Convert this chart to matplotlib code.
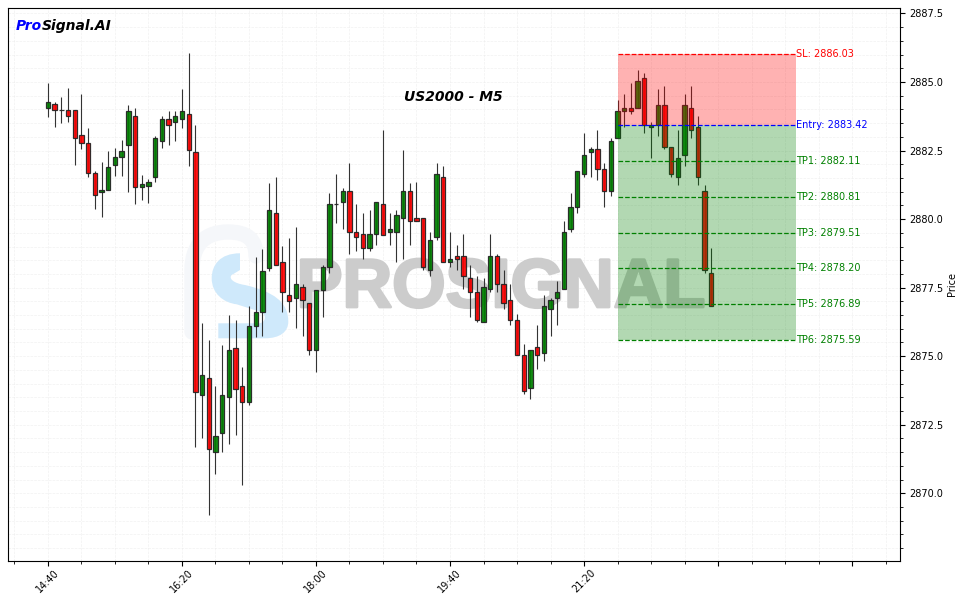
import matplotlib
matplotlib.use("Agg")
import numpy as np

from matplotlib import pyplot as plt
from matplotlib.path import Path
from matplotlib.patches import PathPatch
from matplotlib.patheffects import withStroke
from matplotlib.ticker import MultipleLocator

opens = [2884.04, 2884.18, 2883.97, 2883.97, 2883.97, 2883.05, 2882.76, 2881.67, 2880.97, 2881.05,
         2881.99, 2882.25, 2882.69, 2883.75, 2881.16, 2881.19, 2881.52, 2882.83, 2883.64, 2883.53,
         2883.64, 2883.82, 2882.43, 2873.57, 2874.19, 2871.49, 2872.19, 2873.50, 2875.29, 2873.90,
         2873.32, 2876.09, 2876.60, 2878.20, 2880.21, 2878.42, 2877.22, 2877.11, 2877.51, 2876.93,
         2875.21, 2877.40, 2878.24, 2880.54, 2880.61, 2881.01, 2879.52, 2879.44, 2878.93, 2879.44,
         2880.54, 2879.52, 2879.52, 2880.03, 2881.01, 2880.03, 2880.03, 2878.13, 2879.34, 2881.52,
         2878.42, 2878.64, 2878.64, 2877.84, 2877.33, 2876.24, 2877.44, 2878.64, 2877.62, 2877.04,
         2876.31, 2875.03, 2873.83, 2875.32, 2875.10, 2876.71, 2877.11, 2877.44, 2879.63, 2880.43,
         2881.63, 2882.43, 2882.54, 2881.82, 2881.01, 2882.95, 2883.93, 2884.04, 2884.04, 2885.13,
         2883.35, 2883.42, 2884.15, 2882.62, 2881.52, 2882.33, 2884.04, 2883.35, 2881.01, 2878.02]
closes = [2884.26, 2883.97, 2883.97, 2883.77, 2882.94, 2882.76, 2881.67, 2880.87, 2881.05, 2881.89,
          2882.25, 2882.47, 2883.93, 2881.16, 2881.27, 2881.37, 2882.94, 2883.64, 2883.42, 2883.75,
          2883.93, 2882.51, 2873.68, 2874.30, 2871.60, 2872.08, 2873.57, 2875.21, 2873.79, 2873.32,
          2876.09, 2876.60, 2878.09, 2880.32, 2878.31, 2877.33, 2877.00, 2877.62, 2877.04, 2875.21,
          2877.40, 2878.24, 2880.54, 2880.54, 2881.01, 2879.52, 2879.34, 2878.93, 2879.44, 2880.61,
          2879.41, 2879.63, 2880.14, 2881.01, 2879.92, 2879.92, 2878.24, 2879.22, 2881.63, 2878.42,
          2878.53, 2878.53, 2877.91, 2877.33, 2876.31, 2877.51, 2878.64, 2877.62, 2876.93, 2876.31,
          2875.03, 2873.72, 2875.21, 2875.03, 2876.82, 2877.04, 2877.33, 2879.52, 2880.43, 2881.74,
          2882.33, 2882.54, 2881.82, 2881.01, 2882.83, 2883.93, 2884.04, 2883.93, 2885.02, 2883.42,
          2883.42, 2884.15, 2882.62, 2881.63, 2882.22, 2884.15, 2883.24, 2881.52, 2878.13, 2876.82]
highs = [2884.95, 2884.26, 2884.46, 2884.77, 2883.97, 2884.55, 2883.34, 2881.76, 2882.07, 2882.47,
         2882.58, 2882.87, 2884.15, 2884.04, 2881.59, 2881.48, 2883.02, 2883.75, 2883.93, 2883.93,
         2884.73, 2886.04, 2883.42, 2876.20, 2875.58, 2873.90, 2875.40, 2876.49, 2876.31, 2874.59,
         2876.82, 2878.60, 2878.90, 2881.30, 2881.52, 2879.01, 2879.30, 2879.70, 2877.62, 2876.93,
         2877.40, 2878.31, 2880.94, 2881.63, 2881.12, 2882.03, 2880.54, 2880.21, 2880.32, 2880.61,
         2883.24, 2880.21, 2880.32, 2882.51, 2881.30, 2881.34, 2880.03, 2879.52, 2882.03, 2881.92,
         2879.52, 2879.04, 2879.44, 2878.31, 2877.91, 2877.84, 2879.44, 2878.72, 2878.13, 2877.62,
         2876.53, 2875.43, 2875.21, 2876.13, 2877.22, 2877.11, 2877.73, 2879.92, 2880.94, 2881.74,
         2883.14, 2882.64, 2883.25, 2882.03, 2882.95, 2884.33, 2884.55, 2884.95, 2885.43, 2885.32,
         2883.53, 2884.73, 2884.84, 2882.62, 2883.24, 2884.55, 2884.84, 2883.75, 2881.23, 2878.93]
lows = [2883.73, 2883.37, 2883.49, 2883.55, 2881.99, 2882.54, 2881.55, 2880.35, 2880.06, 2881.05,
        2881.56, 2881.56, 2880.97, 2880.54, 2880.68, 2880.57, 2881.34, 2882.61, 2882.72, 2882.83,
        2883.34, 2881.92, 2871.68, 2872.00, 2869.20, 2870.69, 2871.49, 2871.79, 2872.11, 2870.29,
        2873.21, 2875.69, 2875.72, 2878.09, 2878.31, 2876.60, 2876.60, 2876.02, 2875.72, 2875.03,
        2874.41, 2876.42, 2878.02, 2879.85, 2879.63, 2878.71, 2878.82, 2878.53, 2878.82, 2879.04,
        2879.41, 2879.04, 2878.42, 2878.53, 2879.04, 2879.92, 2878.13, 2877.91, 2879.22, 2878.42,
        2878.24, 2878.13, 2877.44, 2876.42, 2876.24, 2876.24, 2877.33, 2877.33, 2876.71, 2876.13,
        2875.03, 2873.61, 2873.43, 2874.52, 2874.81, 2875.72, 2876.13, 2877.44, 2879.52, 2880.21,
        2881.52, 2881.52, 2881.43, 2880.43, 2880.83, 2882.95, 2883.35, 2883.82, 2884.04, 2883.13,
        2882.22, 2883.02, 2882.55, 2881.52, 2881.23, 2881.92, 2882.95, 2881.23, 2878.02, 2876.82]

sl = 2886.03
entry = 2883.42
tp_levels = [2882.11, 2880.81, 2879.51, 2878.20, 2876.89, 2875.59]
zone_start = 85
zone_end = 111.6

tick_pos = [0, 20, 40, 60, 80, 100, 120]
tick_labels = ["14:40", "16:20", "18:00", "19:40", "21:20", "", ""]

W, H = 963, 603

fig = plt.figure(figsize=(W / 100, H / 100), dpi=100)
ax = fig.add_axes([7.5 / W, 1 - 561 / H, 892.5 / W, 553.5 / H])


def px(points):
    # picture pixels to figure fraction, only used for the logo
    return [(x / W, 1 - y / H) for x, y in points]


# Watermark logo
outline = Path(px([(192, 332), (192, 270), (192, 245), (205, 232), (228, 232), (248, 232), (256, 240), (256, 256)]),
               [Path.MOVETO, Path.LINETO, Path.CURVE4, Path.CURVE4, Path.CURVE4, Path.CURVE4, Path.CURVE4, Path.CURVE4])
ax.add_patch(PathPatch(outline, transform=fig.transFigure, fill=False, edgecolor="#f5f7fa", lw=11, zorder=0.8,
                       capstyle="round"))
s_points = [(240, 253.3), (220, 253.3), (211.7, 265), (211.7, 278.3), (211.7, 293.3), (223.3, 302.7), (236.7, 304.3),
            (260, 311.7), (266.7, 313.3), (266.7, 323.3), (258.3, 323.3), (218.3, 323.3), (218.3, 338.3),
            (265, 338.3), (280, 338.3), (288.3, 331.7), (288.3, 321.7), (288.3, 301.7), (273.3, 291.7), (245, 285),
            (233.3, 283.3), (228.3, 278.3), (231.7, 275), (240, 270), (240, 253.3)]
s_codes = [Path.MOVETO, Path.CURVE4, Path.CURVE4, Path.CURVE4, Path.CURVE4, Path.CURVE4, Path.CURVE4, Path.LINETO,
           Path.CURVE4, Path.CURVE4, Path.CURVE4, Path.LINETO, Path.LINETO, Path.LINETO,
           Path.CURVE4, Path.CURVE4, Path.CURVE4, Path.CURVE4, Path.CURVE4, Path.CURVE4,
           Path.CURVE4, Path.CURVE4, Path.CURVE4, Path.LINETO, Path.CLOSEPOLY]
ax.add_patch(PathPatch(Path(px(s_points), s_codes), transform=fig.transFigure, facecolor="#cfe9fb", edgecolor="none",
                       zorder=1))
ax.text(501 / W, 1 - 289 / H, "PROSIGNAL", transform=fig.transFigure, family="Liberation Sans", weight="bold",
        fontsize=49.5, color="#cccccc", ha="center", va="center", zorder=1.5,
        path_effects=[withStroke(linewidth=2, foreground="#cccccc")])

# Candles
x = np.arange(len(opens))
o = np.array(opens)
c = np.array(closes)
colors = ["green" if c[i] >= o[i] else "red" for i in x]
ax.vlines(x, lows, highs, color="#333333", lw=0.8, zorder=3)
ax.bar(x, c - o, bottom=o, width=0.65, color=colors, edgecolor="#222222", lw=0.9, alpha=0.92, zorder=3.5)

# Trade zones
ax.fill_between([zone_start, zone_end], entry, sl, color="red", alpha=0.3, lw=0, zorder=4)
ax.fill_between([zone_start, zone_end], tp_levels[-1], entry, color="green", alpha=0.3, lw=0, zorder=4)
ax.hlines(sl, zone_start, zone_end, color="red", linestyle="--", lw=0.9, zorder=5)
ax.hlines(entry, zone_start, zone_end, color="blue", linestyle="--", lw=0.9, zorder=5)
ax.text(zone_end, sl, "SL: {:.2f}".format(sl), color="red", fontsize=7, va="center", zorder=6)
ax.text(zone_end, entry, "Entry: {:.2f}".format(entry), color="blue", fontsize=7, va="center", zorder=6)
for n, tp in enumerate(tp_levels):
    ax.hlines(tp, zone_start, zone_end, color="green", linestyle="--", lw=0.9, zorder=5)
    ax.text(zone_end, tp, "TP{}: {:.2f}".format(n + 1, tp), color="green", fontsize=7, va="center", zorder=6)

# Titles
ax.text(0.5, 0.838, "US2000 - M5", transform=ax.transAxes, fontsize=10, weight="bold", style="italic",
        ha="center", va="center", zorder=7)
pro = ax.text(0.009, 0.98, "Pro", transform=ax.transAxes, fontsize=10, weight="bold", style="italic", color="blue",
              va="top", zorder=7)
ax.annotate("Signal.AI", xy=(1, 0), xycoords=pro, fontsize=10, weight="bold", style="italic", color="black",
            va="bottom", zorder=7)

# Axes
ax.set_xlim(-6.04, 127.16)
ax.set_ylim(2867.53, 2887.717)
ax.set_xticks(tick_pos)
ax.set_xticklabels(tick_labels, rotation=45, fontsize=7)
ax.xaxis.set_minor_locator(MultipleLocator(5))
ax.yaxis.set_major_locator(MultipleLocator(2.5))
ax.yaxis.set_minor_locator(MultipleLocator(0.5))
ax.yaxis.tick_right()
ax.yaxis.set_label_position("right")
ax.yaxis.set_major_formatter(lambda v, pos: "{:.1f}".format(v))
ax.tick_params(axis="both", which="major", labelsize=7, length=3.5, width=0.8)
ax.tick_params(axis="x", which="major", pad=1.5)
ax.tick_params(axis="both", which="minor", length=2, width=0.6)
ax.set_ylabel("Price", fontsize=7, labelpad=2)
ax.grid(True, which="both", linestyle="--", lw=0.5, color="#e8e8e8", alpha=0.6, zorder=0)
ax.set_axisbelow(True)
ax.patch.set_alpha(0)

fig.savefig("out.png", dpi=100)
